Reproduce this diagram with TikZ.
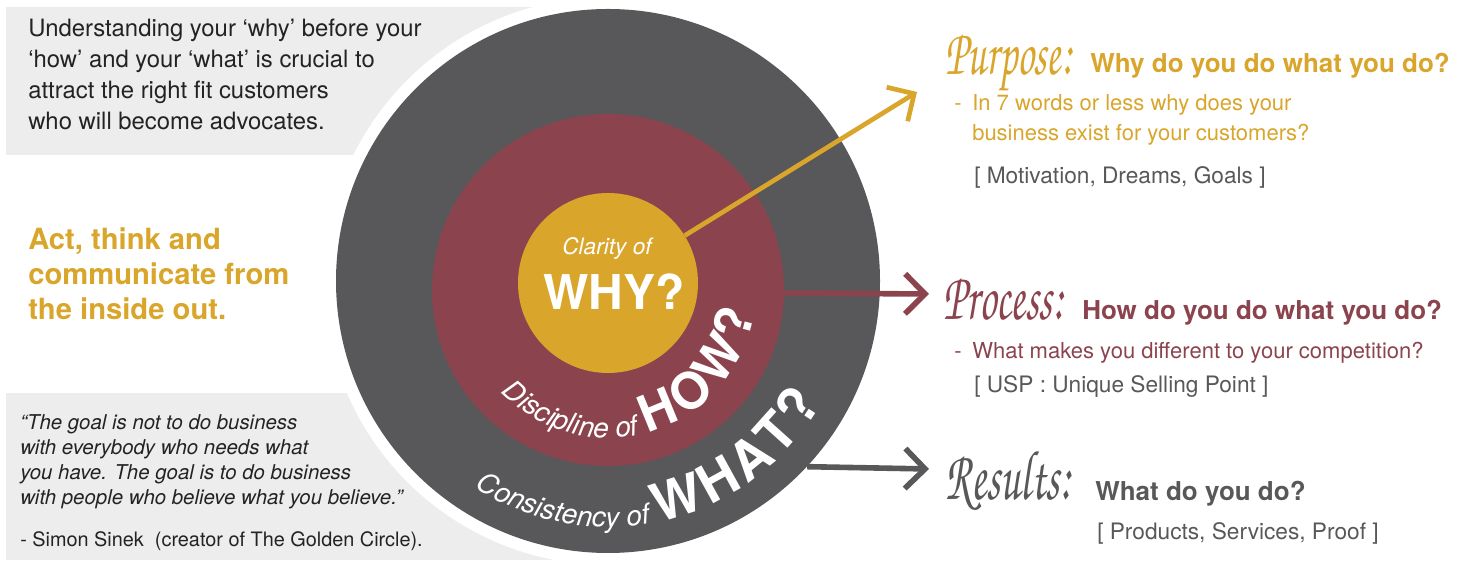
\documentclass[tikz,border=0pt]{standalone}
\usepackage{fontspec}
\setmainfont{TeX Gyre Heros}
\usepackage{graphicx}
\usetikzlibrary{arrows.meta,decorations.text}
\definecolor{gold}{RGB}{217,165,43}
\definecolor{wine}{RGB}{139,68,78}
\definecolor{dgrey}{RGB}{88,88,90}
\definecolor{lgrey}{RGB}{237,237,237}
\definecolor{ink}{RGB}{35,35,35}
\newcommand{\handfont}{\fontencoding{T1}\fontfamily{pzc}\fontseries{mb}\fontshape{it}\selectfont}
\newcommand{\fsz}[1]{\fontsize{#1}{#1}\selectfont}
\begin{document}
\begin{tikzpicture}[x=0.75pt,y=0.75pt,
  txt/.style={inner sep=0pt, anchor=base west},
  body/.style={txt, font=\fsz{17.9}, text=ink},
  quote/.style={txt, font=\itshape\fsz{15.3}, text=ink},
  motto/.style={txt, font=\bfseries\fsz{21.9}, text=gold},
  hand/.style={txt, font=\handfont\fsz{31}},
  head/.style={txt, font=\bfseries\fsz{19.5}},
  sub/.style={txt, font=\fsz{16.5}},
  brack/.style={txt, font=\fsz{17}, text=dgrey},
  disc/.style={circle, inner sep=0pt},
  barb/.style={-{Straight Barb[length=15pt,width=30pt]}}
]
\useasboundingbox (0,0) rectangle (1464,563);
% background boxes
\node[fill=lgrey, inner sep=0pt, minimum width=445.5pt, minimum height=111pt, anchor=north west] (topbox) at (6,556) {};
\node[fill=lgrey, inner sep=0pt, minimum width=445.5pt, minimum height=125.25pt, anchor=south west] (quotebox) at (6,3) {};
% circles
\node[disc, fill=white, minimum size=426pt] (ring) at (608,282) {};
\node[disc, fill=dgrey, minimum size=408pt] (what) at (608,282) {};
\node[disc, fill=wine, minimum size=264pt] (how) at (608,273) {};
\node[disc, fill=gold, minimum size=135pt] (why) at (608,280) {};
% arrows
\coordinate (purtip) at (917,471);
\coordinate (proctip) at (929,269);
\coordinate (restip) at (929,94);
\draw[gold, line width=3.5pt, barb] (why) -- (purtip);
\draw[wine, line width=4.2pt, barb] (how.-1.3) -- (proctip);
\draw[dgrey, line width=4.2pt, barb] (what.-43.7) -- (restip);
% centre texts
\node[txt, anchor=base, font=\itshape\fsz{17}, text=white] (clar) at (607,308) {Clarity of};
\node[txt, anchor=base, font=\bfseries\fsz{36}, text=white] (whyt) at (614,253) {WHY?};
\path[decorate, decoration={text along path, text align=center,
  text={|\color{white}\itshape\fsz{21}|Discipline of |\color{white}\bfseries\fsz{38}|H{\kern4pt}O{\kern4pt}W{\kern4pt}?}}]
  (608,273) ++(197.6:148) arc[start angle=197.6, end angle=377.6, radius=148];
\path[decorate, decoration={text along path, text align=center,
  text={|\color{white}\itshape\fsz{21}|Consistency of |\color{white}\bfseries\fsz{40}|W{\kern3pt}H{\kern3pt}A{\kern3pt}T{\kern3pt}?}}]
  (608,282) ++(193.75:246) arc[start angle=193.75, end angle=373.75, radius=246];
% top-left text
\node[body] (l1) at (28,526) {Understanding your ‘why’ before your};
\node[body] (l2) at (28,495) {‘how’ and your ‘what’ is crucial to};
\node[body] (l3) at (28,464) {attract the right fit customers};
\node[body] (l4) at (28,433) {who will become advocates.};
% motto
\node[motto] (m1) at (28,313) {Act, think and};
\node[motto] (m2) at (28,278) {communicate from};
\node[motto] (m3) at (28,243) {the inside out.};
% quote
\node[quote] (q1) at (20,133) {“The goal is not to do business};
\node[quote] (q2) at (20,108) {with everybody who needs what};
\node[quote] (q3) at (20,83) {you have. The goal is to do business};
\node[quote] (q4) at (20,58) {with people who believe what you believe.”};
\node[body, font=\fsz{14.9}] (q5) at (20,16) {- Simon Sinek\ \ (creator of The Golden Circle).};
% right: purpose
\node[hand, text=gold] (purp) at (945,488) {\scalebox{1}[1.6]{Purpose:}};
\node[head, text=gold] (purq) at (1090,490) {Why do you do what you do?};
\node[sub, text=gold] (purd) at (954,452) {-};
\node[sub, text=gold] (pur1) at (972,452) {In 7 words or less why does your};
\node[sub, text=gold] (pur2) at (972,422) {business exist for your customers?};
\node[brack] (pur3) at (974,379) {[ Motivation, Dreams, Goals ]};
% right: process
\node[hand, text=wine, font=\handfont\fsz{32}] (proc) at (943,243) {\scalebox{1}[1.6]{Process:}};
\node[head, text=wine] (procq) at (1082,243) {How do you do what you do?};
\node[sub, text=wine] (procd) at (954,204) {-};
\node[sub, text=wine] (proc1) at (972,204) {What makes you different to your competition?};
\node[brack] (proc2) at (974,170) {[ USP : Unique Selling Point ]};
% right: results
\node[hand, text=dgrey, font=\handfont\fsz{33}] (res) at (945,63) {\scalebox{1}[1.6]{Results:}};
\node[head, text=dgrey] (resq) at (1095,62) {What do you do?};
\node[brack] (res1) at (1097,23) {[ Products, Services, Proof ]};
\end{tikzpicture}
\end{document}
